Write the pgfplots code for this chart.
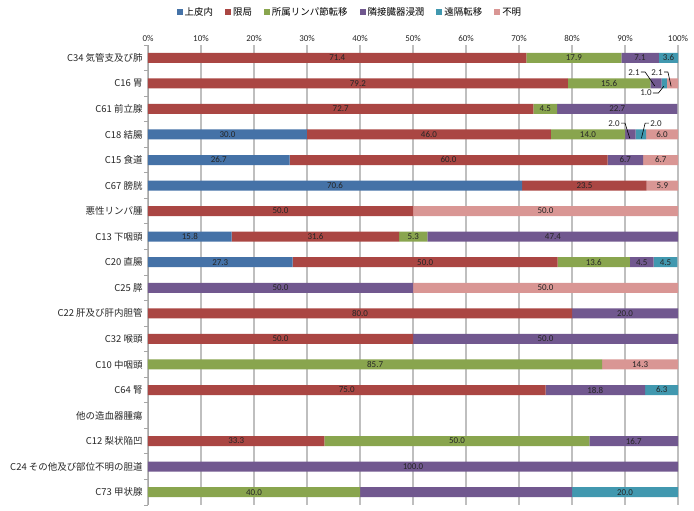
\documentclass[border=0pt]{standalone}
\usepackage{fontspec}
\setmainfont{Noto Sans CJK JP}
\newfontfamily\lat{Carlito}
\usepackage{pgfplots}
\pgfplotsset{compat=1.18}
\usepackage{pgfplotstable}
\definecolor{cA}{HTML}{4572A7}
\definecolor{cB}{HTML}{AA4643}
\definecolor{cC}{HTML}{89A54E}
\definecolor{cD}{HTML}{71588F}
\definecolor{cE}{HTML}{4198AF}
\definecolor{cF}{HTML}{D99694}
\definecolor{gridc}{HTML}{BFBFBF}
\definecolor{labc}{HTML}{262626}

% segment values per category (row idx, top to bottom)
\pgfplotstableread{
idx a    b    c    d     e    f
0   0    71.4 17.9 7.1   3.6  0
1   0    79.2 15.6 2.1   1.0  2.1
2   0    72.7 4.5  22.7  0    0
3   30.0 46.0 14.0 2.0   2.0  6.0
4   26.7 60.0 0    6.7   0    6.7
5   70.6 23.5 0    0     0    5.9
6   0    50.0 0    0     0    50.0
7   15.8 31.6 5.3  47.4  0    0
8   27.3 50.0 13.6 4.5   4.5  0
9   0    0    0    50.0  0    50.0
10  0    80.0 0    20.0  0    0
11  0    50.0 0    50.0  0    0
12  0    0    85.7 0     0    14.3
13  0    75.0 0    18.8  6.3  0
14  0    0    0    0     0    0
15  0    33.3 50.0 16.7  0    0
16  0    0    0    100.0 0    0
17  0    0    40.0 40.0  20.0 0
}\segdata

% in-bar value labels: centre of segment, row, text
\pgfplotstableread{
cx    idx lab
35.7  0   71.4
80.35 0   17.9
92.85 0   7.1
98.2  0   3.6
39.6  1   79.2
87.0  1   15.6
36.35 2   72.7
74.95 2   4.5
88.55 2   22.7
15.0  3   30.0
53.0  3   46.0
83.0  3   14.0
97.0  3   6.0
13.35 4   26.7
56.7  4   60.0
90.05 4   6.7
96.75 4   6.7
35.3  5   70.6
82.35 5   23.5
97.05 5   5.9
25    6   50.0
75    6   50.0
7.9   7   15.8
31.6  7   31.6
50.05 7   5.3
76.4  7   47.4
13.65 8   27.3
52.3  8   50.0
84.1  8   13.6
93.15 8   4.5
97.65 8   4.5
25    9   50.0
75    9   50.0
40    10  80.0
90    10  20.0
25    11  50.0
75    11  50.0
42.85 12  85.7
92.85 12  14.3
37.5  13  75.0
84.4  13  18.8
96.95 13  6.3
16.65 15  33.3
58.3  15  50.0
91.65 15  16.7
50    16  100.0
20    17  40.0
90    17  20.0
}\labdata

\begin{document}
\begin{tikzpicture}
\begin{axis}[name=ax, scale only axis, width=530bp, height=460bp,
  xbar stacked, bar width=10bp,
  xmin=0, xmax=100, ymin=-0.5, ymax=17.5, y dir=reverse,
  axis x line*=top, axis y line*=left,
  x axis line style={draw=none},
  y axis line style={draw=gray!70, line width=0.8bp},
  xtick={0,10,...,100},
  xticklabel={\pgfmathprintnumber{\tick}\%},
  /pgf/number format/assume math mode=true,
  xmajorgrids, grid style={draw=gridc, line width=1.3bp},
  ytick={0,...,17},
  yticklabels={C34 気管支及び肺, C16 胃, C61 前立腺, C18 結腸, C15 食道, C67 膀胱, 悪性リンパ腫, C13 下咽頭, C20 直腸, C25 膵, C22 肝及び肝内胆管, C32 喉頭, C10 中咽頭, C64 腎, 他の造血器腫瘍, C12 梨状陥凹, C24 その他及び部位不明の胆道, C73 甲状腺},
  minor ytick={-0.5,0.5,...,17.5},
  tick align=outside,
  xtick style={draw=none},
  ytick style={draw=gray!70, line width=0.8bp},
  major tick length=0pt, minor tick length=4bp,
  x tick label style={font=\lat\fontsize{9}{10}\selectfont, text=labc},
  y tick label style={font=\fontsize{9.5}{11}\selectfont, text=labc, xshift=-2bp},
  legend image code/.code={\draw[#1, draw=none] (0bp,-3bp) rectangle (6bp,3bp);},
  legend style={at={(0.381,1.0717)}, anchor=center, draw=none, fill=none, legend columns=6,
    font=\fontsize{9.5}{11}\selectfont,
    /tikz/every even column/.append style={column sep=10bp}},
]
\addplot[fill=cA, draw=none] table[x=a, y=idx] {\segdata};
\addlegendentry{上皮内}
\addplot[fill=cB, draw=none] table[x=b, y=idx] {\segdata};
\addlegendentry{限局}
\addplot[fill=cC, draw=none] table[x=c, y=idx] {\segdata};
\addlegendentry{所属リンパ節転移}
\addplot[fill=cD, draw=none] table[x=d, y=idx] {\segdata};
\addlegendentry{隣接臓器浸潤}
\addplot[fill=cE, draw=none] table[x=e, y=idx] {\segdata};
\addlegendentry{遠隔転移}
\addplot[fill=cF, draw=none] table[x=f, y=idx] {\segdata};
\addlegendentry{不明}
\end{axis}
\begin{axis}[scale only axis, width=530bp, height=460bp,
  xmin=0, xmax=100, ymin=-0.5, ymax=17.5, y dir=reverse, hide axis, clip=false]
\addplot[draw=none, mark=none,
  point meta=explicit symbolic, nodes near coords={\pgfplotspointmeta},
  every node near coord/.style={anchor=center, inner sep=0pt, text=labc, font=\lat\fontsize{9}{10}\selectfont}]
  table[x=cx, y=idx, meta=lab] {\labdata};
% callout labels for narrow segments
\node[font=\lat\fontsize{9}{10}\selectfont, text=labc] at (axis cs:91.7,0.597) {2.1};
\draw[black, line width=0.6bp] (axis cs:93.0,0.558) -- (axis cs:93.8,0.558) -- (axis cs:95.6,1.1);
\node[font=\lat\fontsize{9}{10}\selectfont, text=labc] at (axis cs:96.04,0.597) {2.1};
\draw[black, line width=0.6bp] (axis cs:97.36,0.558) -- (axis cs:98.1,0.558) -- (axis cs:98.7,1.12);
\node[font=\lat\fontsize{9}{10}\selectfont, text=labc] at (axis cs:93.96,1.38) {1.0};
\draw[black, line width=0.6bp] (axis cs:95.28,1.38) -- (axis cs:96.3,1.38) -- (axis cs:97.3,1.12);
\node[font=\lat\fontsize{9}{10}\selectfont, text=labc] at (axis cs:87.92,2.594) {2.0};
\draw[black, line width=0.6bp] (axis cs:89.25,2.555) -- (axis cs:90.0,2.555) -- (axis cs:90.9,3.15);
\node[font=\lat\fontsize{9}{10}\selectfont, text=labc] at (axis cs:95.85,2.594) {2.0};
\draw[black, line width=0.6bp] (axis cs:94.5,2.555) -- (axis cs:93.8,2.555) -- (axis cs:93.1,3.15);
\end{axis}
\pgfresetboundingbox
\path ([shift={(-148bp,-6bp)}]ax.south west) rectangle ([shift={(16bp,45bp)}]ax.north east);
\end{tikzpicture}
\end{document}
